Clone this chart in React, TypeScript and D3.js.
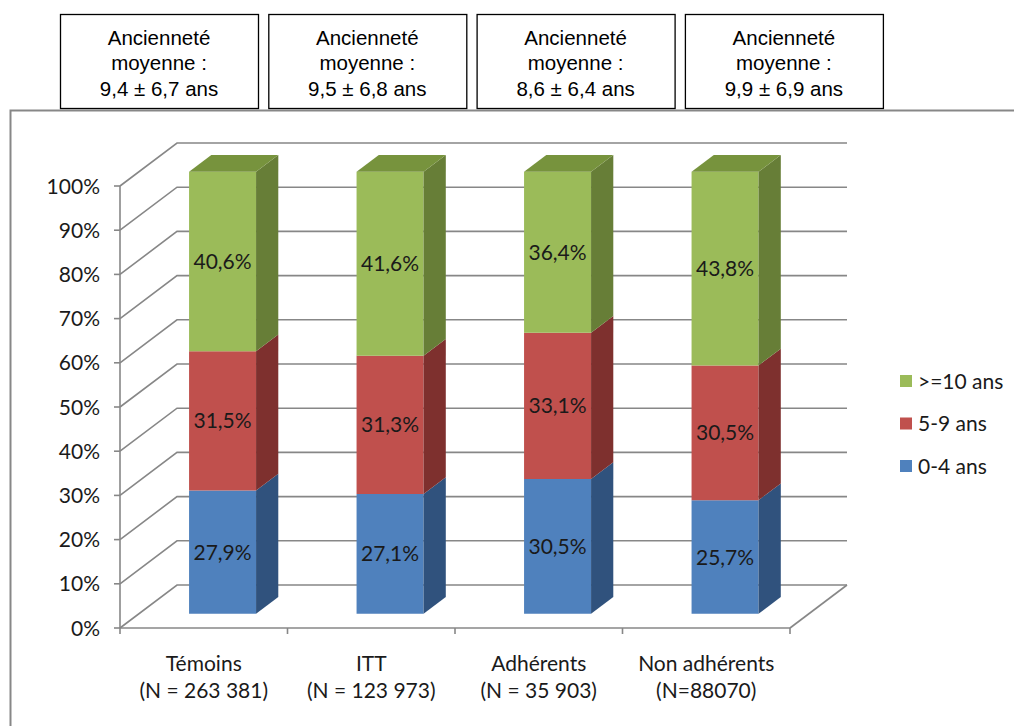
import React from "react";
import * as d3 from "d3";

// Seniority distribution (percent of each group) by cohort
const categories = ["Témoins", "ITT", "Adhérents", "Non adhérents"];
const sampleSizes = ["(N = 263 381)", "(N = 123 973)", "(N = 35 903)", "(N=88070)"];
const meanTenure = ["9,4 ± 6,7 ans", "9,5 ± 6,8 ans", "8,6 ± 6,4 ans", "9,9 ± 6,9 ans"];
const seriesNames = ["0-4 ans", "5-9 ans", ">=10 ans"];
const share0to4 = [27.9, 27.1, 30.5, 25.7];
const share5to9 = [31.5, 31.3, 33.1, 30.5];
const share10plus = [40.6, 41.6, 36.4, 43.8];
const yTicks = [0, 10, 20, 30, 40, 50, 60, 70, 80, 90, 100];

const W = 1014;
const H = 726;

// Excel-2007-like palette: front, side, top faces
const palette = [
  { front: "#4F81BD", side: "#30527D", top: "#3F6798" },
  { front: "#C0504D", side: "#7E302E", top: "#9A3F3C" },
  { front: "#9BBB59", side: "#677E37", top: "#77933D" },
];

const LABEL_FONT = "Lato, 'Open Sans', sans-serif";
const GRID = "#878787";

export default function App() {
  const x = d3
    .scaleBand<string>()
    .domain(categories)
    .range([120, 790])
    .paddingInner(0.6)
    .paddingOuter(0.3);
  const xCat = d3.scaleBand<string>().domain(categories).range([120, 790]);
  const y = d3.scaleLinear().domain([0, 100]).range([628, 186]);

  // oblique projection: full depth shifts a point by (DX, DY)
  const DX = 57;
  const DY = -43;
  const dFront = 0.33;
  const dBack = 0.72;
  const P = (px: number, v: number, d: number) => [px + d * DX, y(v) + d * DY];
  const poly = (pts: number[][]) => "M" + pts.map((p) => p.join(",")).join("L") + "Z";

  const seriesValues = [share0to4, share5to9, share10plus];
  const stackData = categories.map((c, i) => {
    const row: any = { cat: c };
    seriesNames.forEach((s, k) => (row[s] = seriesValues[k][i]));
    return row;
  });
  const stacked = d3.stack<any>().keys(seriesNames)(stackData);

  const fmt = (v: number) => v.toFixed(1).replace(".", ",") + "%";

  const backX0 = 120 + DX;
  const backX1 = 790 + DX;

  return (
    <div style={{ position: "absolute", left: 0, top: 0 }}>
      <svg width={W} height={H} style={{ display: "block", background: "#fff" }}>
        {/* chart frame */}
        <path d={`M10.5,${H}V110.5H${W}`} fill="none" stroke={GRID} strokeWidth={2} />

        {/* mean tenure boxes */}
        {meanTenure.map((t, i) => {
          const bx = 60 + i * 208.3;
          const cx = bx + 99;
          return (
            <g key={"box" + i} fontFamily="'Liberation Sans', Arial, sans-serif" fontSize={20.5} fill="#000" textAnchor="middle">
              <rect x={bx + 0.5} y={14.5} width={198} height={94} fill="#fff" stroke="#000" strokeWidth={1.3} />
              <text x={cx} y={44.5}>Ancienneté</text>
              <text x={cx} y={70}>moyenne :</text>
              <text x={cx} y={95.5}>{t}</text>
            </g>
          );
        })}

        {/* walls and gridlines */}
        <g fill="none" stroke={GRID} strokeWidth={1.6}>
          {yTicks.map((t) => (
            <path key={"g" + t} d={`M120,${y(t)}L${backX0},${y(t) + DY}L${backX1},${y(t) + DY}`} />
          ))}
          <path d={`M790,${y(0)}L${backX1},${y(0) + DY}`} />
          <path d={`M120,${y(0)}H790`} />
          <path d={`M120,${y(0)}V${y(100)}`} />
          {yTicks.map((t) => (
            <path key={"t" + t} d={`M114,${y(t)}H120`} />
          ))}
          {[...categories.map((c) => xCat(c)!), 790].map((px, i) => (
            <path key={"xt" + i} d={`M${px},${y(0)}V${y(0) + 6}`} />
          ))}
        </g>

        {/* y tick labels */}
        <g fontFamily={LABEL_FONT} fontSize={21} fill="#1a1a1a" textAnchor="end">
          {yTicks.map((t) => (
            <text key={"yl" + t} x={100} y={y(t)} dy="0.36em">
              {t}%
            </text>
          ))}
        </g>

        {/* stacked 3D bars */}
        {categories.map((c, i) => {
          const x0 = x(c)!;
          const x1 = x0 + x.bandwidth();
          const topLayer = stacked[stacked.length - 1][i][1];
          return (
            <g key={"bar" + c}>
              {stacked.map((layer, k) => {
                const [v0, v1] = layer[i];
                const col = palette[k];
                return (
                  <g key={"seg" + k}>
                    <path d={poly([P(x0, v0, dFront), P(x1, v0, dFront), P(x1, v1, dFront), P(x0, v1, dFront)])} fill={col.front} />
                    <path d={poly([P(x1, v0, dFront), P(x1, v0, dBack), P(x1, v1, dBack), P(x1, v1, dFront)])} fill={col.side} />
                  </g>
                );
              })}
              <path
                d={poly([P(x0, topLayer, dFront), P(x1, topLayer, dFront), P(x1, topLayer, dBack), P(x0, topLayer, dBack)])}
                fill={palette[palette.length - 1].top}
              />
              {stacked.map((layer, k) => {
                const [v0, v1] = layer[i];
                const [lx, ly] = P((x0 + x1) / 2, (v0 + v1) / 2, dFront);
                return (
                  <text
                    key={"lab" + k}
                    x={lx}
                    y={ly}
                    dy="0.36em"
                    textAnchor="middle"
                    fontFamily={LABEL_FONT}
                    fontSize={21}
                    fill="#1a1a1a"
                  >
                    {fmt(v1 - v0)}
                  </text>
                );
              })}
            </g>
          );
        })}

        {/* category labels */}
        <g fontFamily={LABEL_FONT} fontSize={21} fill="#1a1a1a" textAnchor="middle">
          {categories.map((c, i) => {
            const cx = xCat(c)! + xCat.bandwidth() / 2;
            return (
              <g key={"cl" + c}>
                <text x={cx} y={671}>{c}</text>
                <text x={cx} y={698}>{sampleSizes[i]}</text>
              </g>
            );
          })}
        </g>

        {/* legend */}
        <g fontFamily={LABEL_FONT} fontSize={21} fill="#1a1a1a">
          {[...seriesNames].reverse().map((s, j) => {
            const k = seriesNames.length - 1 - j;
            const cy = 381 + j * 42.5;
            return (
              <g key={"lg" + s}>
                <rect x={900} y={cy - 6} width={12} height={12} fill={palette[k].front} />
                <text x={918} y={cy} dy="0.36em">{s}</text>
              </g>
            );
          })}
        </g>
      </svg>
    </div>
  );
}
